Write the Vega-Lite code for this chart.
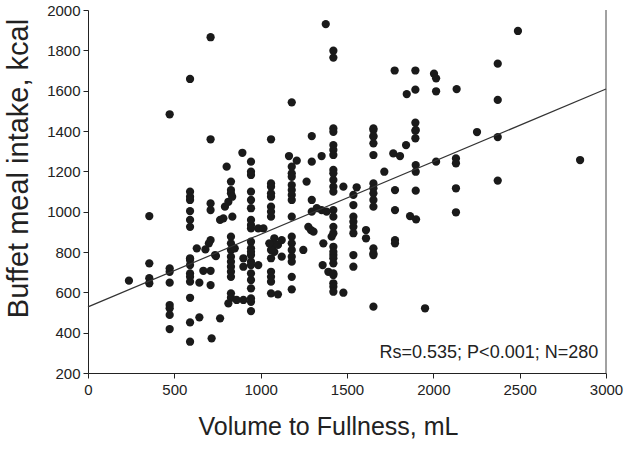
{
  "$schema": "https://vega.github.io/schema/vega-lite/v6.json",
  "width": 518,
  "height": 363,
  "autosize": "none",
  "padding": {"left": 88, "top": 10, "right": 22, "bottom": 76},
  "background": "white",
  "config": {
    "view": {"stroke": null},
    "font": "Liberation Sans",
    "axis": {"grid": false, "domainColor": "#222", "tickColor": "#222", "labelColor": "#222", "titleColor": "#222", "labelFont": "Liberation Sans", "titleFont": "Liberation Sans", "titleFontWeight": "normal", "labelFontSize": 15, "tickSize": 5, "domainWidth": 1, "tickWidth": 1}
  },
  "datasets": {
    "pts": [
      {"v":237,"k":658},
      {"v":355,"k":978},{"v":355,"k":744},{"v":355,"k":670},{"v":355,"k":645},
      {"v":473,"k":1483},{"v":473,"k":719},{"v":473,"k":702},{"v":473,"k":648},{"v":473,"k":537},{"v":473,"k":521},{"v":473,"k":488},{"v":473,"k":418},
      {"v":591,"k":1658},{"v":591,"k":1099},{"v":591,"k":1074},{"v":591,"k":1058},{"v":591,"k":1003},{"v":591,"k":959},{"v":591,"k":925},{"v":591,"k":769},{"v":591,"k":760},{"v":591,"k":735},{"v":591,"k":694},{"v":591,"k":677},{"v":591,"k":653},{"v":591,"k":573},{"v":591,"k":451},{"v":591,"k":355},
      {"v":630,"k":818},{"v":645,"k":648},{"v":645,"k":476},{"v":668,"k":707},
      {"v":710,"k":1865},{"v":710,"k":1359},{"v":710,"k":1041},{"v":710,"k":1008},{"v":710,"k":859},{"v":700,"k":843},{"v":680,"k":813},{"v":736,"k":785},{"v":710,"k":707},{"v":710,"k":636},{"v":716,"k":372},{"v":741,"k":780},
      {"v":765,"k":959},{"v":765,"k":471},
      {"v":803,"k":1223},{"v":784,"k":967},{"v":793,"k":1025},{"v":813,"k":1049},
      {"v":828,"k":1149},{"v":828,"k":1107},{"v":828,"k":1091},{"v":835,"k":1074},{"v":836,"k":975},{"v":828,"k":876},{"v":828,"k":843},{"v":828,"k":810},{"v":828,"k":777},{"v":828,"k":752},{"v":828,"k":727},{"v":828,"k":702},{"v":828,"k":677},{"v":828,"k":595},{"v":828,"k":573},{"v":813,"k":545},{"v":850,"k":818},
      {"v":861,"k":562},{"v":894,"k":1292},{"v":900,"k":769},{"v":900,"k":727},{"v":900,"k":562},
      {"v":944,"k":1248},{"v":944,"k":1198},{"v":944,"k":1182},{"v":944,"k":1099},{"v":944,"k":1058},{"v":944,"k":1017},{"v":944,"k":959},{"v":944,"k":934},{"v":944,"k":917},{"v":944,"k":851},{"v":944,"k":818},{"v":944,"k":785},{"v":944,"k":801},{"v":944,"k":752},{"v":944,"k":735},{"v":944,"k":694},{"v":944,"k":661},{"v":944,"k":620},{"v":944,"k":570},{"v":944,"k":553},{"v":944,"k":507},
      {"v":986,"k":917},{"v":986,"k":735},{"v":1016,"k":917},
      {"v":1060,"k":1359},{"v":1060,"k":1140},{"v":1060,"k":1124},{"v":1060,"k":1091},{"v":1060,"k":1074},{"v":1060,"k":1025},{"v":1060,"k":1000},{"v":1060,"k":975},{"v":1079,"k":868},{"v":1079,"k":835},{"v":1079,"k":801},{"v":1060,"k":810},{"v":1060,"k":769},{"v":1060,"k":702},{"v":1060,"k":677},{"v":1060,"k":653},{"v":1060,"k":595},{"v":1050,"k":843},
      {"v":1100,"k":590},{"v":1100,"k":835},{"v":1122,"k":859},{"v":1122,"k":777},{"v":1164,"k":1276},
      {"v":1180,"k":1542},{"v":1180,"k":1223},{"v":1180,"k":1190},{"v":1180,"k":1173},{"v":1180,"k":1132},{"v":1180,"k":1107},{"v":1180,"k":1083},{"v":1180,"k":1058},{"v":1180,"k":975},{"v":1180,"k":876},{"v":1180,"k":843},{"v":1180,"k":810},{"v":1180,"k":777},{"v":1180,"k":752},{"v":1180,"k":677},{"v":1180,"k":615},
      {"v":1209,"k":1253},{"v":1247,"k":810},{"v":1266,"k":1149},
      {"v":1296,"k":1375},{"v":1296,"k":1248},{"v":1296,"k":1058},{"v":1296,"k":1000},{"v":1276,"k":925},{"v":1291,"k":909},{"v":1306,"k":901},
      {"v":1325,"k":1017},{"v":1353,"k":1276},{"v":1353,"k":1008},{"v":1363,"k":843},{"v":1359,"k":735},{"v":1382,"k":1000},{"v":1377,"k":1930},{"v":1392,"k":702},{"v":1411,"k":876},
      {"v":1421,"k":1798},{"v":1421,"k":1764},{"v":1421,"k":1413},{"v":1421,"k":1396},{"v":1421,"k":1330},{"v":1421,"k":1306},{"v":1421,"k":1281},{"v":1421,"k":1207},{"v":1421,"k":1190},{"v":1421,"k":1157},{"v":1421,"k":1124},{"v":1421,"k":1099},{"v":1421,"k":1008},{"v":1421,"k":975},{"v":1421,"k":925},{"v":1421,"k":893},{"v":1421,"k":826},{"v":1421,"k":785},{"v":1421,"k":801},{"v":1421,"k":769},{"v":1421,"k":744},{"v":1421,"k":694},{"v":1421,"k":686},{"v":1421,"k":645},{"v":1421,"k":628},{"v":1421,"k":603},
      {"v":1479,"k":1124},{"v":1479,"k":598},
      {"v":1556,"k":1121},{"v":1537,"k":1083},{"v":1537,"k":1033},{"v":1537,"k":975},{"v":1537,"k":950},{"v":1537,"k":925},{"v":1537,"k":893},{"v":1537,"k":785},{"v":1537,"k":727},
      {"v":1610,"k":909},{"v":1610,"k":868},
      {"v":1653,"k":1413},{"v":1653,"k":1375},{"v":1653,"k":1405},{"v":1653,"k":1372},{"v":1653,"k":1339},{"v":1653,"k":1281},{"v":1653,"k":1140},{"v":1653,"k":1116},{"v":1653,"k":1091},{"v":1653,"k":1058},{"v":1653,"k":1025},{"v":1653,"k":818},{"v":1653,"k":785},{"v":1653,"k":793},{"v":1653,"k":529},
      {"v":1716,"k":1198},
      {"v":1776,"k":1700},{"v":1778,"k":1107},{"v":1778,"k":1008},{"v":1778,"k":859},{"v":1778,"k":843},{"v":1768,"k":1289},{"v":1807,"k":1276},
      {"v":1842,"k":1330},{"v":1846,"k":1583},{"v":1865,"k":978},
      {"v":1896,"k":1700},{"v":1896,"k":1605},{"v":1896,"k":1441},{"v":1896,"k":1401},{"v":1896,"k":1364},{"v":1898,"k":1405},{"v":1898,"k":1231},{"v":1898,"k":1198},{"v":1898,"k":1104},{"v":1900,"k":962},
      {"v":1952,"k":521},
      {"v":2004,"k":1684},{"v":2016,"k":1661},{"v":2016,"k":1597},{"v":2016,"k":1248},
      {"v":2135,"k":1608},{"v":2131,"k":1264},{"v":2131,"k":1240},{"v":2131,"k":1116},{"v":2131,"k":997},
      {"v":2253,"k":1395},
      {"v":2373,"k":1734},{"v":2373,"k":1554},{"v":2373,"k":1370},{"v":2373,"k":1154},
      {"v":2490,"k":1896},
      {"v":2850,"k":1256}
    ],
    "fit": [{"v":0,"k":528},{"v":3000,"k":1608}]
  },
  "layer": [
    {
      "data": {"name": "pts"},
      "mark": {"type": "circle", "size": 68, "opacity": 1, "color": "#1a1a1a"},
      "encoding": {
        "x": {"field": "v", "type": "quantitative", "scale": {"domain": [0, 3000], "nice": false}, "axis": {"values": [0,500,1000,1500,2000,2500,3000], "format": "d", "title": "Volume to Fullness, mL", "titleFontSize": 25, "titlePadding": 17, "titleX": 240, "titleAlign": "center", "labelPadding": 4, "labelFlush": false}},
        "y": {"field": "k", "type": "quantitative", "scale": {"domain": [200, 2000], "nice": false}, "axis": {"values": [200,400,600,800,1000,1200,1400,1600,1800,2000], "format": "d", "title": "Buffet meal intake, kcal", "titleFontSize": 29, "titlePadding": 13, "titleY": 158, "titleAlign": "center", "labelPadding": 3, "labelFlush": false}}
      }
    },
    {
      "data": {"name": "fit"},
      "mark": {"type": "line", "color": "#333", "strokeWidth": 1.2},
      "encoding": {"x": {"field": "v", "type": "quantitative"}, "y": {"field": "k", "type": "quantitative"}}
    },
    {
      "data": {"values": [{"v": 3000}]},
      "mark": {"type": "rule", "color": "#444", "strokeWidth": 1},
      "encoding": {"x": {"field": "v", "type": "quantitative"}}
    },
    {
      "data": {"values": [{"label": "Rs=0.535; P<0.001; N=280"}]},
      "mark": {"type": "text", "align": "right", "baseline": "alphabetic", "fontSize": 18, "font": "Liberation Sans", "color": "#222"},
      "encoding": {"text": {"field": "label"}, "x": {"datum": 2955}, "y": {"datum": 275}}
    }
  ]
}
